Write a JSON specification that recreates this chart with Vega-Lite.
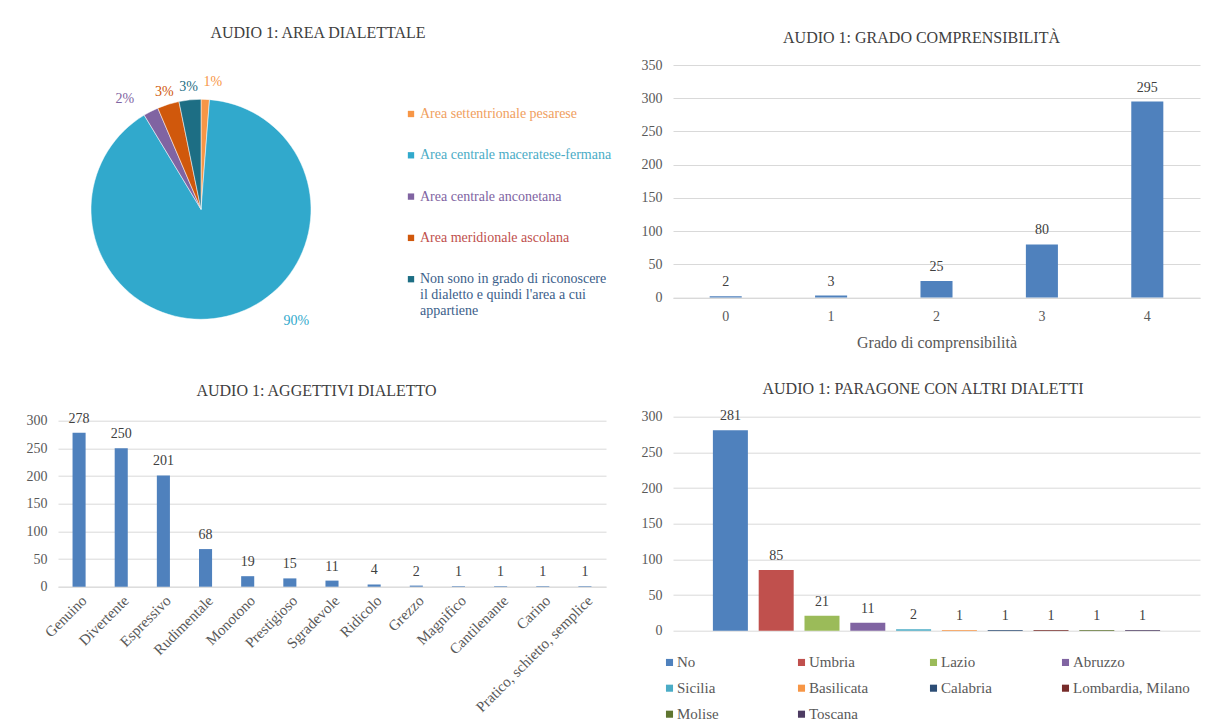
{
  "$schema": "https://vega.github.io/schema/vega-lite/v6.json",
  "background": "white",
  "padding": {"left": 26, "top": 25, "right": 5, "bottom": 2},
  "autosize": {"type": "pad"},
  "config": {
    "font": "Liberation Serif",
    "view": {"stroke": null},
    "title": {"fontSize": 16, "fontWeight": "normal", "color": "#404040", "font": "Liberation Serif"},
    "axis": {"labelFont": "Liberation Serif", "labelFontSize": 14, "labelColor": "#595959", "titleFont": "Liberation Serif", "titleFontSize": 16, "titleColor": "#595959", "titleFontWeight": "normal", "gridColor": "#d9d9d9", "domainColor": "#d9d9d9", "ticks": false},
    "legend": {"labelFont": "Liberation Serif", "labelFontSize": 14, "labelColor": "#595959"},
    "text": {"font": "Liberation Serif", "fontSize": 14}
  },
  "columns": 2,
  "align": "each",
  "bounds": "flush",
  "spacing": {"row": 62.7, "column": 67},
  "resolve": {"scale": {"color": "independent", "x": "independent", "y": "independent", "theta": "independent"}, "legend": {"color": "independent"}},
  "concat": [
    {
      "width": 286,
      "height": 288.6,
      "title": {"text": "AUDIO 1: AREA DIALETTALE", "dx": 117, "offset": 22},
      "data": {"values": [
        {"area": "Area settentrionale pesarese", "n": 5, "pct": "1%", "ord": 1},
        {"area": "Area centrale maceratese-fermana", "n": 365, "pct": "90%", "ord": 2},
        {"area": "Area centrale anconetana", "n": 9, "pct": "2%", "ord": 3},
        {"area": "Area meridionale ascolana", "n": 13, "pct": "3%", "ord": 4},
        {"area": "Non sono in grado di riconoscere il dialetto e quindi l'area a cui appartiene", "n": 13, "pct": "3%", "ord": 5}
      ]},
      "encoding": {
        "theta": {"field": "n", "type": "quantitative", "stack": true},
        "order": {"field": "ord", "type": "quantitative"},
        "color": {
          "field": "area", "type": "nominal", "sort": null,
          "scale": {
            "domain": ["Area settentrionale pesarese", "Area centrale maceratese-fermana", "Area centrale anconetana", "Area meridionale ascolana", "Non sono in grado di riconoscere il dialetto e quindi l'area a cui appartiene"],
            "range": ["#F79646", "#31A9CC", "#8064A2", "#D0580C", "#1D6E84"]
          },
          "legend": {
            "title": null, "orient": "none", "legendX": 346, "legendY": 42,
            "symbolType": "square", "symbolSize": 40, "symbolStrokeWidth": 0,
            "labelFont": "Liberation Serif", "labelFontSize": 14, "labelLimit": 400, "rowPadding": 27.3, "labelOffset": 2,
            "labelExpr": "indexof(datum.label, 'Non sono') == 0 ? ['Non sono in grado di riconoscere', \"il dialetto e quindi l'area a cui\", 'appartiene'] : datum.label",
            "encode": {"labels": {"update": {"fill": {"signal": "datum.value == 'Area settentrionale pesarese' ? '#F0A060' : datum.value == 'Area centrale maceratese-fermana' ? '#4BACC6' : datum.value == 'Area centrale anconetana' ? '#8064A2' : datum.value == 'Area meridionale ascolana' ? '#C0504D' : '#3B5E8A'"}}}}
          }
        }
      },
      "layer": [
        {"mark": {"type": "arc", "outerRadius": 110, "stroke": "white", "strokeWidth": 0.5}},
        {"mark": {"type": "text", "radius": 123, "fontSize": 14, "baseline": "middle", "font": "Liberation Serif"},
         "encoding": {"text": {"condition": {"test": "datum.ord >= 4", "field": "pct"}, "value": ""}}},
        {"mark": {"type": "text", "radius": 123, "fontSize": 14, "baseline": "middle", "dx": 7, "dy": -4, "font": "Liberation Serif"},
         "encoding": {"text": {"condition": {"test": "datum.ord == 1", "field": "pct"}, "value": ""}}},
        {"mark": {"type": "text", "radius": 123, "fontSize": 14, "baseline": "middle", "dx": -20, "dy": -1, "font": "Liberation Serif"},
         "encoding": {"text": {"condition": {"test": "datum.ord == 3", "field": "pct"}, "value": ""}}},
        {"mark": {"type": "text", "radius": 127, "fontSize": 14, "baseline": "middle", "dx": 66, "dy": -12, "font": "Liberation Serif"},
         "encoding": {"text": {"condition": {"test": "datum.ord == 2", "field": "pct"}, "value": ""}}}
      ]
    },
    {
      "width": 527,
      "height": 232.6,
      "title": {"text": "AUDIO 1: GRADO COMPRENSIBILITÀ", "dx": -15, "offset": 12},
      "data": {"values": [
        {"g": "0", "n": 2}, {"g": "1", "n": 3}, {"g": "2", "n": 25}, {"g": "3", "n": 80}, {"g": "4", "n": 295}
      ]},
      "encoding": {
        "x": {"field": "g", "type": "ordinal", "title": "Grado di comprensibilità",
              "scale": {"paddingInner": 0.696, "paddingOuter": 0.348},
              "axis": {"labelAngle": 0, "labelPadding": 12, "titlePadding": 11}},
        "y": {"field": "n", "type": "quantitative", "scale": {"domain": [0, 350], "nice": false},
              "axis": {"title": null, "values": [0, 50, 100, 150, 200, 250, 300, 350], "domain": false, "labelPadding": 11}}
      },
      "layer": [
        {"mark": {"type": "bar", "color": "#4F81BD"}},
        {"mark": {"type": "text", "dy": -14, "baseline": "middle", "color": "#404040", "font": "Liberation Serif"}, "encoding": {"text": {"field": "n"}}}
      ]
    },
    {
      "width": 548,
      "height": 170,
      "title": {"text": "AUDIO 1: AGGETTIVI DIALETTO", "dx": -15.5, "offset": 13},
      "data": {"values": [
        {"a": "Genuino", "n": 278}, {"a": "Divertente", "n": 250}, {"a": "Espressivo", "n": 201},
        {"a": "Rudimentale", "n": 68}, {"a": "Monotono", "n": 19}, {"a": "Prestigioso", "n": 15},
        {"a": "Sgradevole", "n": 11}, {"a": "Ridicolo", "n": 4}, {"a": "Grezzo", "n": 2},
        {"a": "Magnifico", "n": 1}, {"a": "Cantilenante", "n": 1}, {"a": "Carino", "n": 1},
        {"a": "Pratico, schietto, semplice", "n": 1}
      ]},
      "encoding": {
        "x": {"field": "a", "type": "nominal", "sort": null, "title": null,
              "scale": {"paddingInner": 0.69, "paddingOuter": 0.345},
              "axis": {"labelAngle": -45, "labelPadding": 6, "labelLimit": 300, "labelFontSize": 15}},
        "y": {"field": "n", "type": "quantitative", "scale": {"domain": [0, 307.2], "nice": false},
              "axis": {"title": null, "values": [0, 50, 100, 150, 200, 250, 300], "domain": false, "labelPadding": 11}}
      },
      "layer": [
        {"mark": {"type": "bar", "color": "#4F81BD"}},
        {"mark": {"type": "text", "dy": -14, "baseline": "middle", "color": "#404040", "font": "Liberation Serif"}, "encoding": {"text": {"field": "n"}}}
      ]
    },
    {
      "width": 527,
      "height": 214,
      "title": {"text": "AUDIO 1: PARAGONE CON ALTRI DIALETTI", "dx": -13.5, "offset": 12},
      "data": {"values": [
        {"r": "No", "n": 281}, {"r": "Umbria", "n": 85}, {"r": "Lazio", "n": 21}, {"r": "Abruzzo", "n": 11},
        {"r": "Sicilia", "n": 2}, {"r": "Basilicata", "n": 1}, {"r": "Calabria", "n": 1},
        {"r": "Lombardia, Milano", "n": 1}, {"r": "Molise", "n": 1}, {"r": "Toscana", "n": 1}
      ]},
      "encoding": {
        "x": {"field": "r", "type": "nominal", "sort": null, "axis": null,
              "scale": {"paddingInner": 0.236, "paddingOuter": 0.871}},
        "y": {"field": "n", "type": "quantitative", "scale": {"domain": [0, 300], "nice": false},
              "axis": {"title": null, "values": [0, 50, 100, 150, 200, 250, 300], "domain": false, "labelPadding": 11}}
      },
      "layer": [
        {"mark": {"type": "bar"},
         "encoding": {"color": {"field": "r", "type": "nominal", "sort": null,
           "scale": {"domain": ["No", "Umbria", "Lazio", "Abruzzo", "Sicilia", "Basilicata", "Calabria", "Lombardia, Milano", "Molise", "Toscana"],
                     "range": ["#4F81BD", "#C0504D", "#9BBB59", "#8064A2", "#4BACC6", "#F79646", "#2C4D75", "#772C2A", "#5F7530", "#4D3B62"]},
           "legend": {"title": null, "orient": "none", "legendX": -11, "legendY": 238, "direction": "horizontal", "columns": 4, "gridAlign": "all",
                      "symbolType": "square", "symbolSize": 50, "symbolStrokeWidth": 0, "labelFont": "Liberation Serif", "labelFontSize": 15,
                      "columnPadding": -10, "rowPadding": 10, "labelOffset": 0, "labelLimit": 200}}}},
        {"mark": {"type": "text", "dy": -14, "baseline": "middle", "color": "#404040", "font": "Liberation Serif"}, "encoding": {"text": {"field": "n"}}}
      ]
    }
  ]
}
